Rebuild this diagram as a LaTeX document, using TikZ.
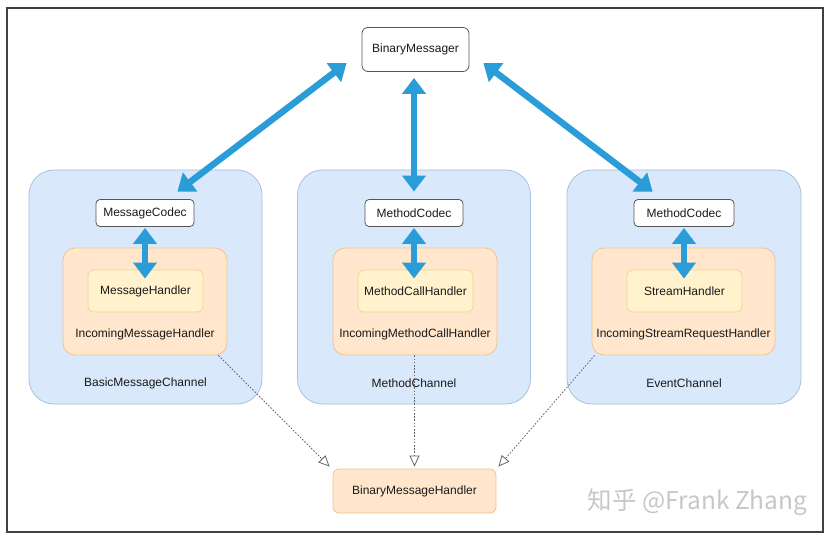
\documentclass[tikz,border=0pt]{standalone}
\usepackage{fontspec}
\setmainfont{Liberation Sans}
\newfontfamily\cjkfont{Noto Sans CJK SC}
\usetikzlibrary{arrows.meta}
\definecolor{chfill}{HTML}{DAE8FC}
\definecolor{chdraw}{HTML}{A9C1E0}
\definecolor{incfill}{HTML}{FFE6CC}
\definecolor{incdraw}{HTML}{EFC58F}
\definecolor{hfill}{HTML}{FFF2CC}
\definecolor{hdraw}{HTML}{F0D891}
\definecolor{arrowblue}{HTML}{2A9DD8}
\definecolor{txt}{HTML}{1A1A1A}
\definecolor{boxdraw}{HTML}{555555}
\tikzset{
  every node/.style={font=\fontsize{12}{14}\selectfont, text=txt},
  channel/.style={draw=chdraw, fill=chfill, rounded corners=25pt, line width=0.8pt, minimum height=234pt, inner sep=0pt},
  incbox/.style={draw=incdraw, fill=incfill, rounded corners=12pt, line width=0.8pt, minimum height=107pt, inner sep=0pt},
  hbox/.style={draw=hdraw, fill=hfill, rounded corners=6pt, line width=0.8pt, minimum width=115pt, minimum height=42pt, inner sep=0pt},
  whitebox/.style={draw=boxdraw, fill=white, rounded corners=4pt, line width=0.8pt, inner sep=0pt},
  bigarrow/.style={draw=arrowblue, line width=6.5pt, {Triangle[width=23pt,length=16pt]}-{Triangle[width=23pt,length=16pt]}},
  dotarrow/.style={draw=gray!80!black, line width=0.8pt, dash pattern=on 1.6pt off 1.6pt, -{Triangle[open,width=10pt,length=11pt,line width=0.8pt]}},
}
\begin{document}
\begin{tikzpicture}[x=1pt,y=-1pt]
\useasboundingbox (0,0) rectangle (830,540);
\draw[line width=1.3pt, draw=black!75] (7,8) rectangle (823,532);

% channels
\node[channel, minimum width=233pt] (ch1) at (145.5,287) {};
\node[channel, minimum width=233pt] (ch2) at (414,287) {};
\node[channel, minimum width=234pt] (ch3) at (684,287) {};
\node (ch1l) at (145.5,383) {BasicMessageChannel};
\node (ch2l) at (414,383) {MethodChannel};
\node (ch3l) at (684,383) {EventChannel};

% incoming handlers
\node[incbox, minimum width=164pt] (inc1) at (145,301.5) {};
\node[incbox, minimum width=164pt] (inc2) at (415,301.5) {};
\node[incbox, minimum width=183pt] (inc3) at (683.5,301.5) {};
\node (inc1l) at (145,334) {IncomingMessageHandler};
\node (inc2l) at (415,334) {IncomingMethodCallHandler};
\node (inc3l) at (683.5,334) {IncomingStreamRequestHandler};

% inner handlers
\node[hbox] (h1) at (145.5,291) {MessageHandler};
\node[hbox] (h2) at (415.5,291) {MethodCallHandler};
\node[hbox] (h3) at (684.5,291) {StreamHandler};

% codecs
\node[whitebox, minimum width=98pt, minimum height=27pt] (c1) at (145,213) {MessageCodec};
\node[whitebox, minimum width=98pt, minimum height=27pt] (c2) at (414,213) {MethodCodec};
\node[whitebox, minimum width=100pt, minimum height=27pt] (c3) at (684,213) {MethodCodec};

% top and bottom
\node[whitebox, rounded corners=6pt, minimum width=107pt, minimum height=44pt] (bm) at (415.5,49.5) {BinaryMessager};
\node[draw=incdraw, fill=incfill, rounded corners=6pt, line width=0.8pt, minimum width=163pt, minimum height=44pt, inner sep=0pt] (bmh) at (414.5,491) {BinaryMessageHandler};

% small arrows
\draw[bigarrow] ([yshift=-1pt]c1.south) -- ([yshift=-9pt]h1.north-|c1.south);
\draw[bigarrow] ([yshift=-1pt]c2.south) -- ([yshift=-9pt]h2.north-|c2.south);
\draw[bigarrow] ([yshift=-1pt]c3.south) -- ([yshift=-9pt]h3.north-|c3.south);

% big arrows
\draw[bigarrow] ([shift={(-15pt,-13.5pt)}]bm.west) -- ([shift={(-17pt,7.5pt)}]c1.north east);
\draw[bigarrow] ([yshift=-6pt]bm.south-|c2.north) -- ([yshift=7.5pt]c2.north);
\draw[bigarrow] ([shift={(14pt,-13.5pt)}]bm.east) -- ([shift={(19pt,7.5pt)}]c3.north west);

% dotted arrows
\draw[dotarrow] ([xshift=-9pt]inc1.south east) -- ([shift={(-3pt,2pt)}]bmh.north west);
\draw[dotarrow] (inc2.south-|bmh.north) -- ([yshift=2pt]bmh.north);
\draw[dotarrow] ([xshift=3pt]inc3.south west) -- ([shift={(2pt,2pt)}]bmh.north east);

% watermark
\node[text=black!22, font=\cjkfont\fontsize{24.5}{27}\selectfont, anchor=center] (wm) at (697.5,502) {知乎 @Frank Zhang};
\end{tikzpicture}
\end{document}
